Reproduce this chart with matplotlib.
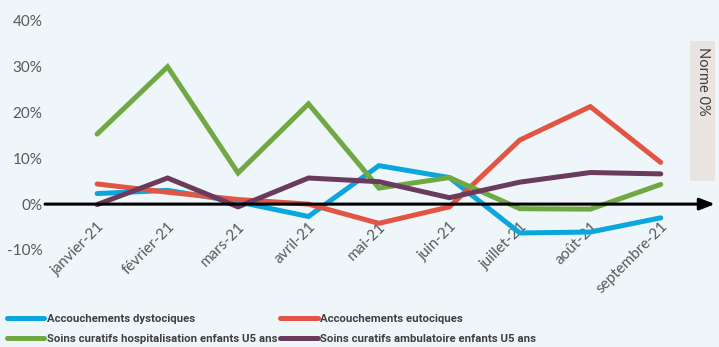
import matplotlib.pyplot as plt
from matplotlib.lines import Line2D
from matplotlib.patches import Rectangle

# ---------- data ----------
mois = ["janvier-21", "février-21", "mars-21", "avril-21", "mai-21",
        "juin-21", "juillet-21", "août-21", "septembre-21"]

dystociques = [2.3, 3.0, 0.5, -2.7, 8.4, 5.8, -6.3, -6.1, -3.0]
eutociques = [4.4, 2.6, 1.0, 0.0, -4.2, -0.6, 14.0, 21.3, 9.1]
hospitalisation = [15.3, 30.0, 6.8, 21.9, 3.5, 5.8, -1.0, -1.1, 4.3]
ambulatoire = [-0.1, 5.7, -0.6, 5.7, 4.9, 1.4, 4.8, 6.9, 6.6]

series = [
    ("Accouchements dystociques", dystociques, "#0BA6DD"),
    ("Accouchements eutociques", eutociques, "#E25544"),
    ("Soins curatifs hospitalisation enfants U5 ans", hospitalisation, "#70A843"),
    ("Soins curatifs ambulatoire enfants U5 ans", ambulatoire, "#6B3B5E"),
]

bg = "#EEF6F9"
grey = "#595959"
plt.rcParams["font.family"] = ["Lato", "DejaVu Sans"]

fig = plt.figure(figsize=(7.19, 3.47), dpi=100, facecolor=bg)
ax = fig.add_axes([45 / 719, 1 - 265 / 347, 670 / 719, 255 / 347])
ax.set_facecolor(bg)
# month labels hang just below the 0% line
ax.spines["bottom"].set_position(("data", 0))

x = list(range(len(mois)))
for label, vals, col in series:
    ax.plot(x, vals, color=col, lw=3.6, solid_capstyle="round",
            solid_joinstyle="miter", label=label, zorder=3)

# 0% reference line with arrow head
ax.annotate("", xy=(8.77, 0), xytext=(-0.74, 0), annotation_clip=False,
            arrowprops=dict(arrowstyle="-|>,head_length=0.9,head_width=0.35",
                            color="black", lw=2.2, shrinkA=0, shrinkB=0),
            zorder=4)

ax.set_xlim(-0.74, 8.77)
ax.set_ylim(-13.3, 42.4)
ax.set_yticks([-10, 0, 10, 20, 30, 40])
ax.set_yticklabels([f"{v}%" for v in [-10, 0, 10, 20, 30, 40]],
                   fontsize=11, color=grey)
ax.set_xticks(x)
ax.set_xticklabels(mois, rotation=45, ha="right", rotation_mode="anchor",
                   fontsize=11, color=grey)
ax.tick_params(axis="y", length=0, pad=2)
ax.tick_params(axis="x", length=0, pad=11)
for s in ax.spines.values():
    s.set_visible(False)

# norm label box
fig.patches.append(Rectangle((690 / 719, 1 - 181 / 347), 25 / 719, 140 / 347,
                             transform=fig.transFigure, facecolor="#E9E4E0",
                             edgecolor="none"))
fig.text(703 / 719, 1 - 81 / 347, "Norme 0%", rotation=-90, ha="center",
         va="center", fontsize=10.5, color="#404040")

# legend filled column by column, so interleave for two rows
order = [0, 2, 1, 3]
handles = [Line2D([], [], color=series[i][2], lw=3.6, solid_capstyle="round")
           for i in order]
labels = [series[i][0] for i in order]
leg = fig.legend(handles, labels, ncol=2, loc="lower left",
                 bbox_to_anchor=(-0.005, -0.021), frameon=False,
                 handlelength=3.3, handletextpad=0.2, columnspacing=0.3,
                 labelspacing=0.85,
                 prop={"family": "Roboto", "size": 8.2, "weight": "bold"})
for t in leg.get_texts():
    t.set_color("#404040")

fig.savefig("out.png", dpi=100, facecolor=bg)
